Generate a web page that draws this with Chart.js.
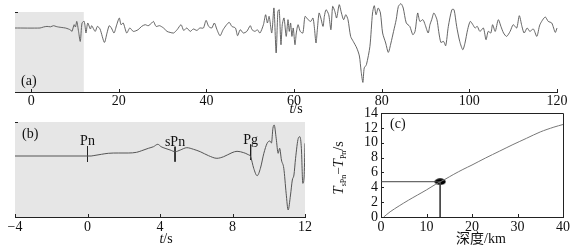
<!DOCTYPE html>
<html><head><meta charset="utf-8">
<script src="https://cdn.jsdelivr.net/npm/chart.js@4/dist/chart.umd.min.js"></script>
<style>
html,body{margin:0;padding:0;background:#fff;}
#wrap{position:relative;width:576px;height:251px;overflow:hidden;background:#fff;}
.c{position:absolute;}
</style></head><body>
<div id="wrap">
<div class="c" style="left:0;top:0;"><canvas id="ca" width="576" height="118"></canvas></div>
<div class="c" style="left:0;top:115px;"><canvas id="cb" width="320" height="136"></canvas></div>
<div class="c" style="left:320px;top:100px;"><canvas id="cc" width="256" height="151"></canvas></div>
</div>
<script>
// ---------- DATA ----------
// (a) full record: time (s) and amplitude (relative units, baseline 0)
const timeA = [-3.7,2.0,2.8,3.6,4.4,5.1,5.7,6.2,7.0,7.8,8.5,9.0,9.3,9.8,10.1,10.4,10.8,11.2,11.6,12.1,12.5,12.9,13.5,13.8,14.6,15.1,15.7,16.7,17.3,17.8,18.3,18.9,19.5,20.1,20.5,21.0,21.8,22.5,23.3,24.4,25.2,26.0,26.7,27.5,27.9,28.5,29.3,30.2,31.0,31.7,32.5,33.3,34.2,34.8,35.5,36.3,37.0,37.8,38.5,39.3,39.9,40.5,41.2,41.8,42.4,43.1,43.8,44.6,45.2,45.8,46.6,47.1,47.7,48.4,49.2,50.0,50.4,51.1,51.6,52.2,53.0,53.5,53.9,54.3,54.9,55.4,55.9,56.3,56.6,57.0,57.3,57.7,58.2,58.6,58.9,59.2,59.5,59.8,60.2,60.5,60.9,61.4,62.0,62.5,63.2,63.8,64.3,64.6,65.0,65.3,65.7,66.1,66.6,66.9,67.3,67.9,68.4,68.8,69.3,69.7,70.3,70.8,71.3,71.8,72.3,72.9,73.5,74.3,74.9,75.3,75.7,76.0,76.5,77.3,77.9,78.3,78.7,79.2,79.7,80.2,80.9,81.5,82.1,82.7,83.3,83.8,84.4,84.9,85.6,86.4,87.1,87.6,88.2,88.7,89.4,89.9,90.6,91.0,91.4,91.9,92.6,93.0,93.5,94.1,94.6,95.2,96.0,96.5,97.1,97.8,98.5,99.0,99.6,100.2,100.8,101.3,101.8,102.4,103.2,103.8,104.3,104.9,105.3,105.9,106.6,107.2,107.8,108.5,109.3,110.0,110.8,111.4,112.0,112.5,113.2,113.8,114.6,115.4,116.1,117.3,118.0,118.8,119.6,120.0];
const ampA = [0,0,1,1.6,1.2,2.3,1.5,1,0.5,0,-1,-2,-3.4,3.3,1,6.6,-3.4,-13.4,5,6.6,-5,5,-1,2.3,-3.4,1.6,-1,-14.4,-5,2.3,0,-5,3,10,3.3,5,-5,0,-3.4,-1.7,1.6,3.3,2.3,5,6.6,1.6,2.3,0,-3.4,-4.4,-5,-1.7,3.3,-2.4,0,-3.4,-1,-2.4,0,0,7.6,1.6,0,5,-1.7,-7.7,-1.7,3.3,5.6,1.6,0,-7.7,-1.7,-5,-3.4,2.3,-1.7,-3.4,-1.7,-5,3.3,13.3,5,11.6,-5,20,-25,16.6,18.3,-16.7,3.3,10,-8.4,8.3,-3.4,5,-8.4,0,-16.7,-5,3.3,-3.4,-5,11.6,8.3,6.6,10,1.6,-15,-1.7,15,10,1.6,11.6,18.3,13.3,-1.7,21.6,16.6,10,23.3,15,8.3,13.3,8.3,-8.4,-13.4,-20,-28,-43.4,-54.4,-40,-36.7,-18.4,15,22.3,13.3,20,15,-5,-15,-24.4,-15,-3.4,8.3,21.6,24.3,20,5,1.6,-6.7,-3.4,15,6.6,8.3,3.3,-5,3.3,8.3,15,8.3,-3.4,-14.4,-13.4,-17.7,1.6,18.3,18.3,1.6,-13.4,-21.7,-15,-1.7,6.6,3.3,0,1.6,-3.4,0,-11.7,-3.4,-5,3.3,-3.4,8.3,1.6,-5,-8.4,-3.4,3.3,0,12.3,1.6,-5,0,-3.4,-1,-8.4,3.3,11,6.6,5,-4.4,0];
const xTicksA = [0,20,40,60,80,100,120];
const windowB = [-4, 12];           // time window enlarged in (b)

// (b) enlarged window
const timeB = [-4,0.2,0.31,0.77,1.15,1.7,2.25,2.71,2.99,3.36,3.64,3.88,4.06,4.28,4.56,4.84,5.12,5.48,5.85,6.22,6.68,7.14,7.51,7.97,8.25,8.62,8.85,9.0,9.17,9.36,9.54,9.73,9.91,10.06,10.15,10.23,10.3,10.41,10.52,10.6,10.7,10.83,10.96,11.07,11.2,11.3,11.39,11.48,11.63,11.72,11.8,11.88,11.95,12.0];
const ampB = [0,0,0.3,1.7,2.7,3,3,3.7,5.3,7.7,9.3,11.7,9.3,7.7,6,4.3,6,8.3,6.7,4.3,0.3,-2.3,-0.7,3.3,4.7,3.3,1.5,-0.7,-12.3,-19.7,-12.3,2.7,12.7,15,13,27.7,31,17.7,2.7,7.7,-4,-12.3,-37.3,-54,-39,-24,-19,-2.3,17.7,19.3,7.7,-27.3,-21,12.7];
const xTicksB = [-4,0,4,8,12];
const phaseNames = ['Pn','sPn','Pg'];
const phaseTimes = [0, 4.83, 9.0];
const phaseTop = [10, 9.3, 11.5];
const phaseBottom = [-6, -5.7, -4];

// (c) sPn - Pn time difference vs depth
const depthC = [0.6,2,4,6,8,10,12,14,16,18,20,23,26,29,32,35,38,40];
const dtC = [0,0.7,1.5,2.25,2.95,3.65,4.4,5.05,5.75,6.4,7.0,7.95,8.85,9.75,10.6,11.45,12.1,12.45];
const xTicksC = [0,10,20,30,40];
const yTicksC = [0,2,4,6,8,10,12,14];
const pickDepth = 13.0, pickDt = 4.75;

// ---------- STYLE ----------
const SERIF = '"Liberation Serif","Times New Roman",serif';
Chart.defaults.font.family = SERIF;
Chart.defaults.font.size = 13;
Chart.defaults.color = '#111';
const AXIS = '#222', TRACE = '#555', GREY = '#e6e6e6';
const pts = (xs, ys) => xs.map((x, i) => ({x, y: ys[i]}));
const fmt = v => (v < 0 ? '\u2212' + Math.abs(v) : String(v));

// plugins
const bgFill = {
  id: 'bgFill',
  beforeDatasetsDraw(chart, args, o) {
    if (!o || !o.ranges) return;
    const a = chart.chartArea, ctx = chart.ctx, xs = chart.scales.x;
    ctx.save(); ctx.fillStyle = o.color;
    o.ranges.forEach(r => {
      const x1 = Math.max(a.left, xs.getPixelForValue(r[0]));
      const x2 = Math.min(a.right, xs.getPixelForValue(r[1]));
      ctx.fillRect(x1, a.top, x2 - x1, a.bottom - a.top);
    });
    ctx.restore();
  }
};
const inTicks = {
  id: 'inTicks',
  afterDraw(chart, args, o) {
    const ctx = chart.ctx, a = chart.chartArea, len = o.len || 3;
    ctx.save(); ctx.strokeStyle = AXIS; ctx.lineWidth = 1;
    (o.x || []).forEach(v => {
      const p = Math.round(chart.scales.x.getPixelForValue(v)) + 0.5;
      ctx.beginPath(); ctx.moveTo(p, a.bottom); ctx.lineTo(p, a.bottom - len); ctx.stroke();
    });
    (o.y || []).forEach(v => {
      const p = Math.round(chart.scales.y.getPixelForValue(v)) + 0.5;
      ctx.beginPath(); ctx.moveTo(a.left, p); ctx.lineTo(a.left + len, p); ctx.stroke();
    });
    if (o.box) {
      ctx.beginPath();
      ctx.moveTo(Math.round(a.left), Math.round(a.top) + 0.5);
      ctx.lineTo(Math.round(a.right) + 0.5, Math.round(a.top) + 0.5);
      ctx.lineTo(Math.round(a.right) + 0.5, Math.round(a.bottom));
      ctx.stroke();
    }
    ctx.restore();
  }
};
const texts = {
  id: 'texts',
  afterDraw(chart, args, o) {
    const ctx = chart.ctx, a = chart.chartArea;
    (o.items || []).forEach(it => {
      const x = it.x(a, chart), y = it.y(a, chart);
      ctx.save(); ctx.translate(x, y); if (it.rot) ctx.rotate(it.rot);
      ctx.fillStyle = '#111'; ctx.textBaseline = 'alphabetic';
      let total = 0;
      it.parts.forEach(p => { ctx.font = (p.it ? 'italic ' : '') + p.size + 'px ' + (p.fam || SERIF); p.w = ctx.measureText(p.t).width; total += p.w; });
      let cx = it.align === 'left' ? 0 : -total / 2;
      it.parts.forEach(p => {
        ctx.font = (p.it ? 'italic ' : '') + p.size + 'px ' + (p.fam || SERIF);
        ctx.fillText(p.t, cx, (p.dy || 0) + (it.base || 0));
        cx += p.w;
      });
      ctx.restore();
    });
  }
};
Chart.register(bgFill, inTicks, texts);

const common = {
  responsive: false, animation: false, events: [],
  plugins: {legend: {display: false}, tooltip: {enabled: false}}
};
const setTicks = arr => s => { s.ticks = arr.map(v => ({value: v})); };

// ---------- (a) ----------
new Chart(document.getElementById('ca'), {
  type: 'line',
  data: {datasets: [{data: pts(timeA, ampA), borderColor: TRACE, borderWidth: 0.9, pointRadius: 0, tension: 0.25, clip: false}]},
  options: Object.assign({}, common, {
    layout: {padding: {top: 12, right: 19, left: 0, bottom: 0}},
    plugins: Object.assign({}, common.plugins, {
      bgFill: {color: GREY, ranges: [windowB]},
      inTicks: {x: xTicksA, y: [16], len: 3},
      texts: {items: [
        {x: a => a.left + 6, y: a => a.bottom - 7, align: 'left', parts: [{t: '(a)', size: 14}]},
        {x: a => (a.left + a.right) / 2 + 10, y: a => a.bottom + 21, parts: [{t: 't', it: true, size: 14}, {t: '/s', size: 14}]}
      ]}
    }),
    scales: {
      x: {type: 'linear', min: -3.7, max: 120, afterBuildTicks: setTicks(xTicksA),
          grid: {display: false, drawTicks: false}, border: {color: AXIS},
          ticks: {padding: 1, maxRotation: 0, autoSkip: false, callback: fmt, font: {size: 14}},
          afterFit: s => { s.height = 26; }},
      y: {type: 'linear', min: -64, max: 16, grid: {display: false, drawTicks: false},
          ticks: {display: false}, border: {color: AXIS}, afterFit: s => { s.width = 15; }}
    }
  })
});

// ---------- (b) ----------
const phaseSets = phaseTimes.map((t, i) => ({
  data: [{x: t, y: phaseTop[i]}, {x: t, y: phaseBottom[i]}],
  borderColor: '#222', borderWidth: 1, pointRadius: 0
}));
new Chart(document.getElementById('cb'), {
  type: 'line',
  data: {datasets: [{data: pts(timeB, ampB), borderColor: TRACE, borderWidth: 1, pointRadius: 0, cubicInterpolationMode: 'monotone'}].concat(phaseSets)},
  options: Object.assign({}, common, {
    layout: {padding: {top: 7, right: 15, left: 0, bottom: 0}},
    plugins: Object.assign({}, common.plugins, {
      bgFill: {color: GREY, ranges: [windowB]},
      inTicks: {x: xTicksB, y: [34], len: 3},
      texts: {items: [
        {x: a => a.left + 7, y: a => a.top + 16, align: 'left', parts: [{t: '(b)', size: 14}]},
        {x: a => (a.left + a.right) / 2 + 6, y: a => a.bottom + 26, parts: [{t: 't', it: true, size: 14}, {t: '/s', size: 14}]}
      ].concat(phaseNames.map((n, i) => ({
        x: (a, c) => c.scales.x.getPixelForValue(phaseTimes[i]),
        y: (a, c) => c.scales.y.getPixelForValue(phaseTop[i]) - 1,
        parts: [{t: n, size: 14}]
      })))}
    }),
    scales: {
      x: {type: 'linear', min: -4, max: 12, afterBuildTicks: setTicks(xTicksB),
          grid: {display: false, drawTicks: false}, border: {color: AXIS},
          ticks: {padding: 2, maxRotation: 0, autoSkip: false, callback: fmt, font: {size: 14}},
          afterFit: s => { s.height = 34; }},
      y: {type: 'linear', min: -61, max: 34, grid: {display: false, drawTicks: false},
          ticks: {display: false}, border: {color: AXIS}, afterFit: s => { s.width = 15; }}
    }
  })
});

// ---------- (c) ----------
const ell = document.createElement('canvas');
ell.width = 12; ell.height = 7;
(function () { const g = ell.getContext('2d'); g.fillStyle = '#000'; g.beginPath(); g.ellipse(6, 3.5, 5.6, 3.2, 0, 0, Math.PI * 2); g.fill(); })();
new Chart(document.getElementById('cc'), {
  type: 'line',
  data: {datasets: [
    {data: pts(depthC, dtC), borderColor: '#777', borderWidth: 1, pointRadius: 0, tension: 0.3},
    {data: [{x: 0, y: pickDt}, {x: pickDepth, y: pickDt}, {x: pickDepth, y: 0}], borderColor: '#444', borderWidth: 1, pointRadius: 0, tension: 0},
    {data: [{x: pickDepth, y: pickDt}], showLine: false, pointStyle: ell, pointRadius: 5}
  ]},
  options: Object.assign({}, common, {
    layout: {padding: {top: 13, right: 13, left: 0, bottom: 0}},
    plugins: Object.assign({}, common.plugins, {
      inTicks: {x: xTicksC, y: yTicksC, len: 3, box: true},
      texts: {items: [
        {x: a => a.left + 9, y: a => a.top + 15, align: 'left', parts: [{t: '(c)', size: 14}]},
        {x: a => (a.left + a.right) / 2 + 9, y: a => a.bottom + 26, parts: [{t: '深度', size: 14, fam: '"Noto Sans CJK SC",sans-serif'}, {t: '/km', size: 14}]},
        {x: a => a.left - 43, y: a => (a.top + a.bottom) / 2 + 3, rot: -Math.PI / 2, base: 5,
         parts: [{t: 'T', it: true, size: 15}, {t: 'sPn', size: 8, dy: 3}, {t: '\u2212', size: 13}, {t: 'T', it: true, size: 15}, {t: 'Pn', size: 8, dy: 3}, {t: '/s', size: 14}]}
      ]}
    }),
    scales: {
      x: {type: 'linear', min: 0, max: 40, afterBuildTicks: setTicks(xTicksC),
          grid: {display: false, drawTicks: false}, border: {color: AXIS},
          ticks: {padding: 2, maxRotation: 0, autoSkip: false, font: {size: 14}},
          afterFit: s => { s.height = 34; }},
      y: {type: 'linear', min: 0, max: 14, afterBuildTicks: setTicks(yTicksC),
          grid: {display: false, drawTicks: false}, border: {color: AXIS},
          ticks: {padding: 3, autoSkip: false, font: {size: 14}},
          afterFit: s => { s.width = 61; }}
    }
  })
});
</script>
</body></html>
